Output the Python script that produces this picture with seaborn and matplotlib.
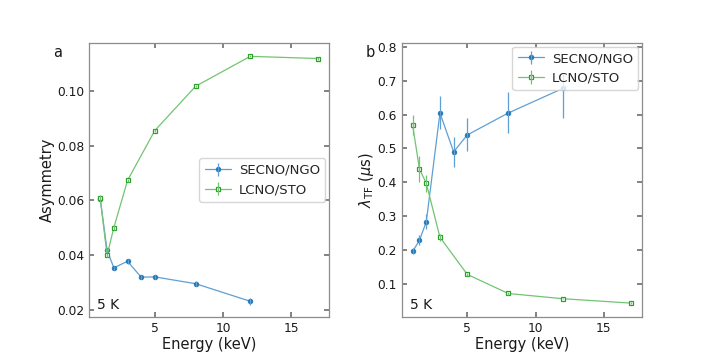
import matplotlib
matplotlib.use("Agg")
import matplotlib.pyplot as plt
import seaborn as sns
import numpy as np
import pandas as pd
from matplotlib.legend_handler import HandlerTuple

# ---- data ----
energy_secno = [1, 1.5, 2, 3, 4, 5, 8, 12]
energy_lcno = [1, 1.5, 2, 3, 5, 8, 12, 17]

asym_secno = [0.0606, 0.0418, 0.0354, 0.0378, 0.0320, 0.0321, 0.0296, 0.0232]
asym_secno_err = [0.0008, 0.0008, 0.0007, 0.0009, 0.0008, 0.0008, 0.0009, 0.0013]
asym_lcno = [0.0608, 0.0400, 0.0501, 0.0673, 0.0855, 0.1017, 0.1126, 0.1118]
asym_lcno_err = [0.0011, 0.0008, 0.0008, 0.0005, 0.0004, 0.0004, 0.0004, 0.0004]

lam_secno = [0.195, 0.228, 0.283, 0.605, 0.490, 0.540, 0.605, 0.678]
lam_secno_lo = [0.009, 0.015, 0.022, 0.048, 0.044, 0.048, 0.058, 0.087]
lam_secno_hi = [0.009, 0.015, 0.022, 0.049, 0.044, 0.050, 0.062, 0.043]
lam_lcno = [0.569, 0.439, 0.397, 0.237, 0.127, 0.0705, 0.055, 0.042]
lam_lcno_err = [0.030, 0.039, 0.025, 0.010, 0.004, 0.003, 0.002, 0.002]

labels = ["SECNO/NGO", "LCNO/STO"]

df_secno = pd.DataFrame({"energy": energy_secno, "asym": asym_secno, "lam": lam_secno})
df_lcno = pd.DataFrame({"energy": energy_lcno, "asym": asym_lcno, "lam": lam_lcno})

# ---- style ----
sns.set_theme(style="ticks")
plt.rcParams.update({
    "font.family": ["DejaVu Sans"],
    "axes.edgecolor": "0.55",
    "axes.linewidth": 0.9,
    "xtick.direction": "in",
    "ytick.direction": "in",
    "xtick.top": True,
    "ytick.right": True,
    "xtick.color": "0.45",
    "ytick.color": "0.45",
    "xtick.labelcolor": "0.1",
    "ytick.labelcolor": "0.1",
    "xtick.labelsize": 8.8,
    "ytick.labelsize": 8.8,
    "xtick.major.size": 3.5,
    "ytick.major.size": 3.5,
    "axes.labelsize": 10.5,
    "axes.labelcolor": "0.1",
    "legend.fontsize": 9.5,
})

blue, blue_l = "#1f77b4", "#5f9fd3"
green, green_l = "#2ca02c", "#72c472"

fig = plt.figure(figsize=(7.14, 3.57), dpi=100)
ax1 = fig.add_axes([0.1251, 0.1112, 0.3362, 0.7690])
ax2 = fig.add_axes([0.5626, 0.1112, 0.3368, 0.7690])


def draw(ax, col, err_b, err_g):
    sns.lineplot(data=df_secno, x="energy", y=col, ax=ax, color=blue_l, lw=0.9,
                 marker="o", markersize=3.4, markerfacecolor=blue,
                 markeredgecolor=blue, markeredgewidth=0.5, legend=False)
    lb = ax.lines[-1]
    eb = ax.errorbar(df_secno["energy"], df_secno[col], yerr=err_b, fmt="none",
                     ecolor=blue_l, elinewidth=0.9, capsize=0)
    sns.lineplot(data=df_lcno, x="energy", y=col, ax=ax, color=green_l, lw=0.9,
                 marker="s", markersize=3.4, markerfacecolor="white",
                 markeredgecolor=green, markeredgewidth=0.9, legend=False)
    lg = ax.lines[-1]
    eg = ax.errorbar(df_lcno["energy"], df_lcno[col], yerr=err_g, fmt="none",
                     ecolor=green_l, elinewidth=0.9, capsize=0)
    return [(lb, eb), (lg, eg)]


h1 = draw(ax1, "asym", asym_secno_err, asym_lcno_err)
h2 = draw(ax2, "lam", [lam_secno_lo, lam_secno_hi], lam_lcno_err)

for ax in (ax1, ax2):
    ax.set_xlabel("Energy (keV)", labelpad=1.5)
    ax.set_xticks([5, 10, 15])
    ax.text(0.033, 0.045, "5 K", transform=ax.transAxes, fontsize=10,
            ha="left", va="center", color="0.1")

ax1.set_ylabel("Asymmetry", labelpad=2)
ax1.set_yticks([0.02, 0.04, 0.06, 0.08, 0.10])
ax1.set_yticklabels(["0.02", "0.04", "0.06", "0.08", "0.10"])
ax2.set_ylabel(r"$\lambda_{\rm TF}$ ($\mu$s)", labelpad=1)
ax2.set_yticks([0.1, 0.2, 0.3, 0.4, 0.5, 0.6, 0.7, 0.8])
ax2.set_ylim(0.0, 0.813)

ax1.text(-0.133, 0.965, "a", transform=ax1.transAxes, fontsize=10.5,
         ha="center", va="center", color="0.1")
ax2.text(-0.13, 0.965, "b", transform=ax2.transAxes, fontsize=10.5,
         ha="center", va="center", color="0.1")

hm = {tuple: HandlerTuple(ndivide=1)}
ax1.legend(h1, labels, loc="center right", handler_map=hm,
           frameon=True, fancybox=True, framealpha=0.8, edgecolor="0.8",
           handlelength=2.0, handletextpad=0.6, borderaxespad=0.3)
ax2.legend(h2, labels, loc="upper right", handler_map=hm,
           frameon=True, fancybox=True, framealpha=0.8, edgecolor="0.8",
           handlelength=2.0, handletextpad=0.6, borderaxespad=0.3)

fig.savefig("out.png", dpi=100)
